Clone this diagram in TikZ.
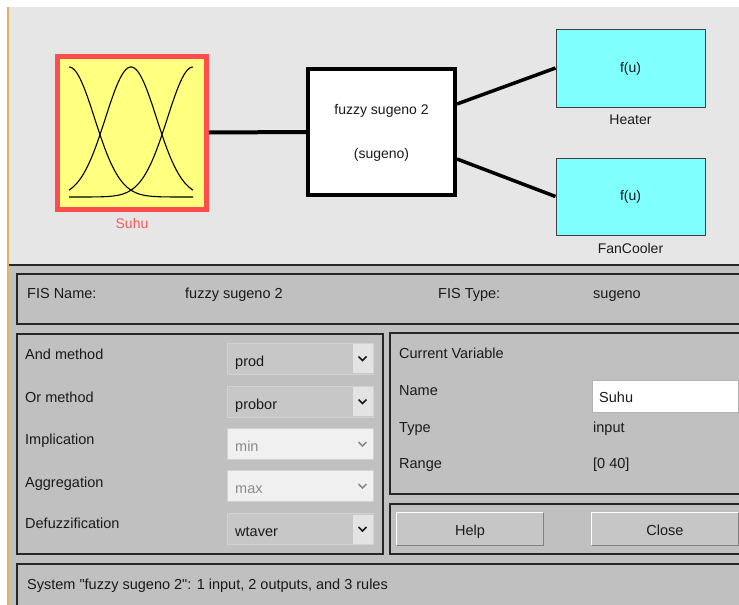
\documentclass[tikz,border=0pt]{standalone}
\usepackage{fontspec}
\setmainfont{Liberation Sans}[Ligatures=TeXOff]
\usetikzlibrary{calc}
\definecolor{topgray}{HTML}{E6E6E6}
\definecolor{panelgray}{HTML}{C0C0C0}
\definecolor{mfyellow}{HTML}{FFFF80}
\definecolor{mfred}{HTML}{FF4D4D}
\definecolor{suhulbl}{HTML}{F25A5A}
\definecolor{outcyan}{HTML}{80FFFF}
\definecolor{edgeorange}{HTML}{E3B45A}
\definecolor{fieldgray}{HTML}{C7C7C7}
\definecolor{fieldedge}{HTML}{D2D2D2}
\definecolor{arrowbg}{HTML}{E3E3E3}
\definecolor{disfill}{HTML}{F0F0F0}
\definecolor{distext}{HTML}{8A8A8A}
\definecolor{dischev}{HTML}{BDBDBD}
\definecolor{btnfill}{HTML}{C6C6C6}
\definecolor{txt}{HTML}{1A1A1A}
\newcommand\fisdd[5]{%
  \node[ddbox,#4] (#1) at (300,#2) {};
  \node[ddarrow,#4] (#1a) at (362.5,#2) {};
  \draw[chev,#5] ($(#1a.center)+(-4,-2)$) -- ($(#1a.center)+(0,2)$) -- ($(#1a.center)+(4,-2)$);
  \node[lbl,text=#5] (#1t) at (235,#2+7.5) {#3};}
\begin{document}
\begin{tikzpicture}[x=1pt,y=-1pt,
  font=\fontsize{14.5}{17}\selectfont,
  lbl/.style={anchor=base west, inner sep=0pt, text=txt},
  toplbl/.style={inner sep=0pt, text=txt, font=\fontsize{14}{16}\selectfont},
  panel/.style={draw=black!85, line width=1.3pt},
  ddbox/.style={minimum width=146pt, minimum height=31pt, inner sep=0pt, fill=fieldgray, draw=fieldedge, line width=0.8pt},
  ddarrow/.style={minimum width=20pt, minimum height=29pt, inner sep=0pt, fill=arrowbg},
  disabled/.style={fill=disfill},
  chev/.style={line width=1.5pt},
  btn/.style={minimum width=146pt, minimum height=32pt, inner sep=0pt, fill=btnfill, text=txt},
  conn/.style={line width=4pt, black},
  mfbox/.style={minimum width=149pt, minimum height=153pt, inner sep=0pt, fill=mfyellow, draw=mfred, line width=5pt},
  rulebox/.style={minimum width=147pt, minimum height=126pt, inner sep=0pt, fill=white, draw=black, line width=4pt},
  outbox/.style={minimum width=149pt, minimum height=78pt, inner sep=0pt, fill=outcyan, draw=black!75, line width=1pt},
  mfcurve/.style={line width=1.1pt, black}]
\useasboundingbox (0,0) rectangle (739,605);
\clip (0,0) rectangle (739,605);
\fill[white] (0,0) rectangle (739,605);
\fill[topgray] (8,7) rectangle (739,265);
\fill[panelgray] (8,265) rectangle (739,605);
\draw[edgeorange, line width=1.5pt] (8,7) -- (8,605);
\draw[black!85, line width=1.3pt] (9,265) -- (745,265);

% ---------- top diagram ----------
\node[mfbox] (suhu) at (132,132.5) {};
\draw[mfcurve] plot[domain=0:40, samples=90, smooth] ({69+3.1*\x},{197-130*exp(-(\x)^2/136)});
\draw[mfcurve] plot[domain=0:40, samples=90, smooth] ({69+3.1*\x},{197-130*exp(-(\x-20)^2/136)});
\draw[mfcurve] plot[domain=0:40, samples=90, smooth] ({69+3.1*\x},{197-130*exp(-(\x-40)^2/136)});
\node[toplbl, text=suhulbl] (suhulabel) at (132,223) {Suhu};

\node[rulebox] (rules) at (381.5,132) {};
\node[toplbl] (rulename) at (381.5,111) {fuzzy sugeno 2};
\node[toplbl] (ruletype) at (381.5,155) {(sugeno)};

\node[outbox] (heater) at (630.5,68) {};
\node[toplbl] (heaterf) at (630.5,69) {f(u)};
\node[toplbl] (heaterlbl) at (630.5,120) {Heater};
\node[outbox, minimum height=77pt] (fan) at (630.5,196.5) {};
\node[toplbl] (fanf) at (630.5,197) {f(u)};
\node[toplbl] (fanlbl) at (630.5,248) {FanCooler};

\draw[conn] (suhu.east) -- (rules.west);
\draw[conn, line width=3.5pt] ([yshift=28pt]rules.east) -- (heater.west);
\draw[conn, line width=3.5pt] ([yshift=-27pt]rules.east) -- (fan.west);

% ---------- panels ----------
\draw[panel] (17,274) rectangle (745,324);
\draw[panel] (17,334) rectangle (383,554);
\draw[panel] (390,333) rectangle (745,494);
\draw[panel] (390,504) rectangle (745,554);
\draw[panel] (17,564) rectangle (745,615);

\node[lbl] (fisnamel) at (27,298) {FIS Name:};
\node[lbl] (fisname) at (185,298) {fuzzy sugeno 2};
\node[lbl] (fistypel) at (438,298) {FIS Type:};
\node[lbl] (fistype) at (593,298) {sugeno};

\node[lbl] (andl) at (25,359) {And method};
\node[lbl] (orl) at (25,402) {Or method};
\node[lbl] (impl) at (25,444) {Implication};
\node[lbl] (aggl) at (25,487) {Aggregation};
\node[lbl] (defl) at (25,528) {Defuzzification};

\fisdd{dand}{358.5}{prod}{}{txt}
\fisdd{dor}{401.5}{probor}{}{txt}
\fisdd{dimp}{444}{min}{disabled}{distext}
\fisdd{dagg}{486}{max}{disabled}{distext}
\fisdd{ddef}{529}{wtaver}{}{txt}

\node[lbl] (curvar) at (399,358) {Current Variable};
\node[lbl] (namel) at (399,395) {Name};
\node[minimum width=146pt, minimum height=32pt, inner sep=0pt, fill=white, draw=black!30, line width=0.8pt] (namebox) at (665,396) {};
\node[lbl] (nameval) at (599,402) {Suhu};
\node[lbl] (typel) at (399,432) {Type};
\node[lbl] (typeval) at (593,432) {input};
\node[lbl] (rangel) at (399,468) {Range};
\node[lbl] (rangeval) at (593,468) {[0 40]};

\node[btn] (help) at (470,529) {};
\node[lbl] (helpt) at (470,535) [anchor=base] {Help};
\node[btn] (close) at (665,529) {};
\node[lbl] (closet) at (665,535) [anchor=base] {Close};
\foreach \b in {help,close}{
  \draw[white, line width=1.2pt] (\b.south west) -- (\b.north west) -- (\b.north east);
  \draw[black!50, line width=1.2pt] (\b.north east) -- (\b.south east) -- (\b.south west);
}

\node[lbl] (status) at (27,589) {System "fuzzy sugeno 2": 1 input, 2 outputs, and 3 rules};
\end{tikzpicture}
\end{document}
